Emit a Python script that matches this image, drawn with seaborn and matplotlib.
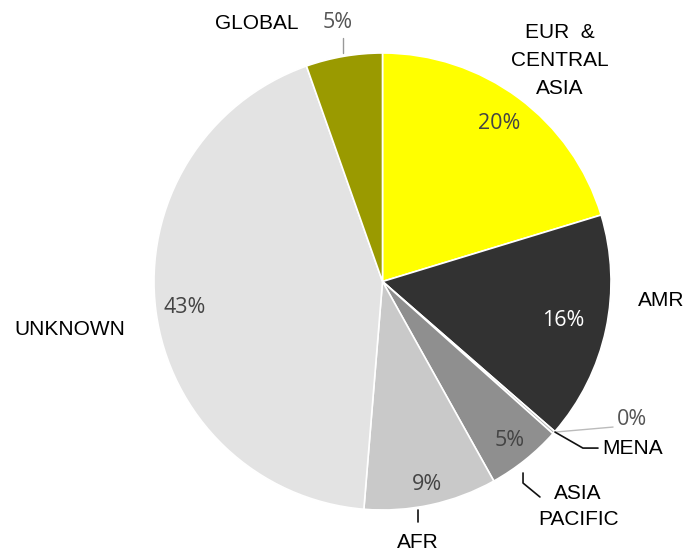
import matplotlib
matplotlib.use("Agg")
import matplotlib.pyplot as plt
import seaborn as sns
import numpy as np

# Share of records by region
regions = ["EUR  &\nCENTRAL\nASIA", "AMR", "MENA", "ASIA\nPACIFIC", "AFR", "UNKNOWN", "GLOBAL"]
shares = [20.3, 16.1, 0.2, 5.3, 9.4, 43.3, 5.4]
colors = ["#FFFF00", "#323232", "#B5B5B5", "#8F8F8F", "#C9C9C9", "#E3E3E3", "#9A9A00"]

sns.set_theme(style="white")
plt.rcParams["font.family"] = ["Liberation Sans", "DejaVu Sans"]

W, H, DPI = 687, 554, 100
fig = plt.figure(figsize=(W / DPI, H / DPI), dpi=DPI)
ax = fig.add_axes([0, 0, 1, 1])

wedges, _ = ax.pie(shares, colors=colors, startangle=90, counterclock=False,
                   radius=1.0, wedgeprops=dict(edgecolor="white", linewidth=1.2))

# Pie centre and radius in pixels; axes limits map data units onto them
cx, cy, R = 382.5, 272.5, 228.5
ax.set_aspect("equal")
ax.set_xlim(-cx / R, (W - cx) / R)
ax.set_ylim(-cy / R, (H - cy) / R)
ax.axis("off")

def mid_angle(w):
    return np.deg2rad((w.theta1 + w.theta2) / 2)

pct_font = dict(family=["Open Sans", "DejaVu Sans"], fontsize=15.5, ha="center", va="center")
cat_font = dict(fontsize=15, color="#000000", ha="center", va="center")

# Percent labels inside wedges (radius factor per wedge)
inside = {0: (0.86, "#444444"), 1: (0.81, "white"), 3: (0.89, "#444444"),
          4: (0.91, "#444444"), 5: (0.875, "#444444")}
for i, (r, c) in inside.items():
    a = mid_angle(wedges[i])
    ax.text(r * np.cos(a), r * np.sin(a), f"{shares[i]:.0f}%", color=c, **pct_font)

# GLOBAL percent outside with a leader line
a = mid_angle(wedges[6])
ax.text(1.15 * np.cos(a), 1.15 * np.sin(a), f"{shares[6]:.0f}%", color="#555555", **pct_font)
ax.plot([-0.173, -0.173], [1.0, 1.066], color="#999999", lw=1)

# MENA percent outside
ax.text(1.092, -0.606, f"{shares[2]:.0f}%", color="#555555", **pct_font)
ax.plot([0.755, 1.009], [-0.659, -0.637], color="#BBBBBB", lw=1)

# Category labels
ax.text(-0.549, 1.127, regions[6], **cat_font)
ax.text(0.777, 0.965, regions[0], linespacing=1.6, **cat_font)
ax.text(1.219, -0.081, regions[1], **cat_font)
ax.text(-1.368, -0.212, regions[5], **cat_font)
ax.text(1.096, -0.729, regions[2], **cat_font)
ax.text(0.856, -0.985, regions[3], linespacing=1.5, **cat_font)
ax.text(0.155, -1.144, regions[4], **cat_font)

# Leader lines for outer category labels
ax.plot([0.755, 0.877, 0.943], [-0.659, -0.729, -0.729], color="#111111", lw=1.2)
ax.plot([0.615, 0.615, 0.689], [-0.838, -0.882, -0.943], color="#111111", lw=1.2)
ax.plot([0.155, 0.155], [-1.0, -1.053], color="#111111", lw=1.2)

fig.savefig("out.png", dpi=DPI, facecolor="white")
